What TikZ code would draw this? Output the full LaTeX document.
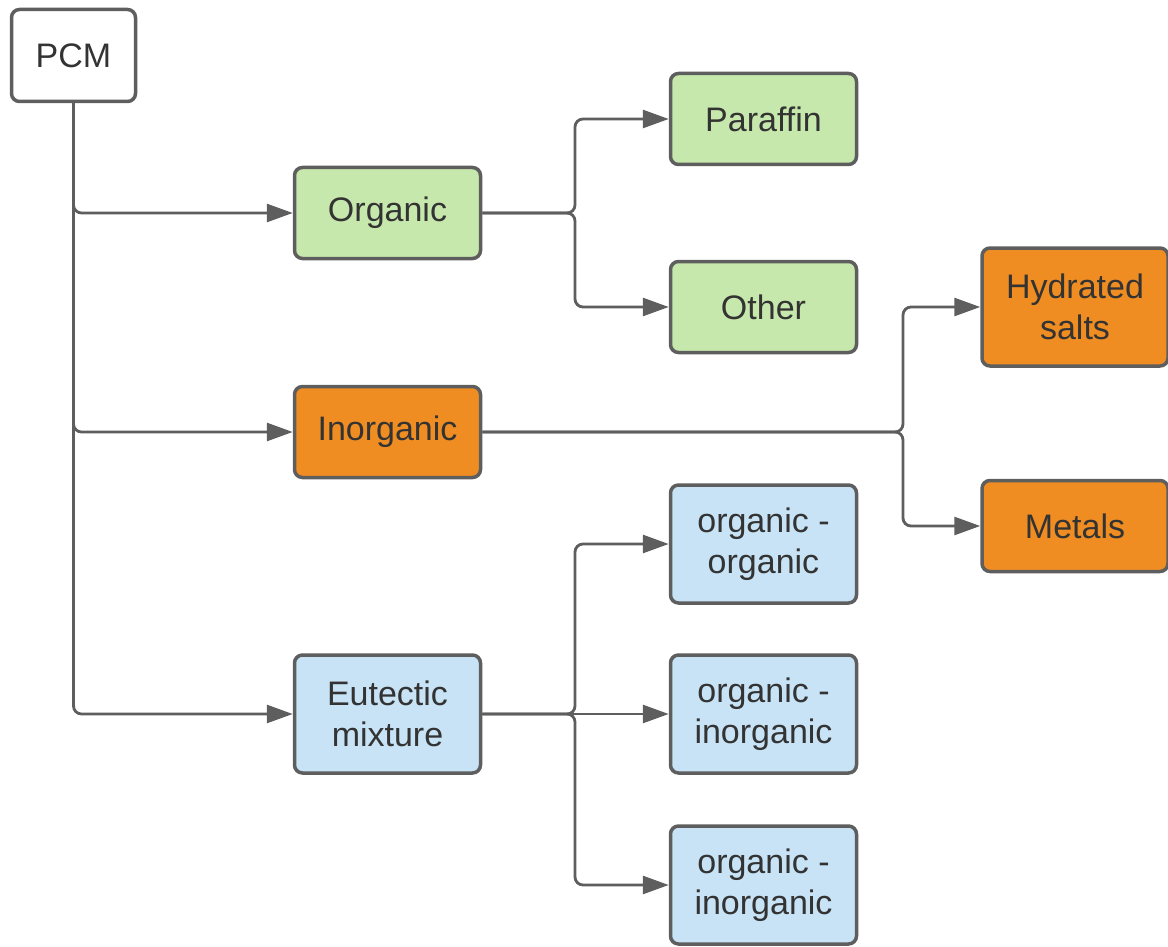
\documentclass[tikz,border=0pt]{standalone}
\usepackage{fontspec}
\setmainfont{Liberation Sans}
\usetikzlibrary{arrows.meta, positioning}
\definecolor{lgreen}{HTML}{C7E8AC}
\definecolor{lorange}{HTML}{EF8D22}
\definecolor{lblue}{HTML}{C7E3F5}
\definecolor{edgegray}{HTML}{5E5E5E}
\definecolor{txtgray}{HTML}{333333}
\tikzset{
  base/.style={rectangle,rounded corners=8pt,draw=edgegray,line width=3.5pt,align=center,text=txtgray,inner sep=0pt,font=\fontsize{34}{41}\selectfont,minimum width=186pt},
  wbox/.style={base,fill=white,minimum width=124pt,minimum height=92pt},
  gbox/.style={base,fill=lgreen,minimum height=91pt},
  obox/.style={base,fill=lorange,minimum height=91pt},
  bbox/.style={base,fill=lblue,minimum height=118pt},
  arr/.style={-{Triangle[length=26pt,width=18pt]},line width=2.8pt,draw=edgegray,rounded corners=8pt}
}

\begin{document}
\begin{tikzpicture}[x=1pt,y=-1pt]
  \useasboundingbox (0,0) rectangle (1168,947);

  \node[wbox] (pcm) at (73.5,55.5) {PCM};

  % first level
  \node[gbox] (org)   at (387.5,213) {Organic};
  \node[obox] (inorg) at (387.5,432) {Inorganic};
  \node[bbox] (eut)   at (387.5,714) {Eutectic\\mixture};

  % organic
  \node[gbox] (par) at (763.5,119) {Paraffin};
  \node[gbox] (oth) at (763.5,307) {Other};

  % inorganic
  \node[obox,minimum height=118pt] (hyd) at (1075,307) {Hydrated\\salts};
  \node[obox] (met) at (1075,526) {Metals};

  % eutectic
  \node[bbox] (oo)  at (763.5,544) {organic -\\organic};
  \node[bbox] (oi)  at (763.5,714) {organic -\\inorganic};
  \node[bbox] (oi2) at (763.5,885) {organic -\\inorganic};

  \coordinate (jl) at (575,0);
  \coordinate (jr) at (903,0);

  \draw[arr] (pcm.south) |- (org.west);
  \draw[arr] (pcm.south) |- (inorg.west);
  \draw[arr] (pcm.south) |- (eut.west);

  \draw[arr] (org.east) -- (org.east -| jl) |- (par.west);
  \draw[arr] (org.east) -- (org.east -| jl) |- (oth.west);

  \draw[arr] (inorg.east) -- (inorg.east -| jr) |- (hyd.west);
  \draw[arr] (inorg.east) -- (inorg.east -| jr) |- (met.west);

  \draw[arr] (eut.east) -- (eut.east -| jl) |- (oo.west);
  \draw[arr] (eut.east) -- (oi.west);
  \draw[arr] (eut.east) -- (eut.east -| jl) |- (oi2.west);
\end{tikzpicture}
\end{document}
